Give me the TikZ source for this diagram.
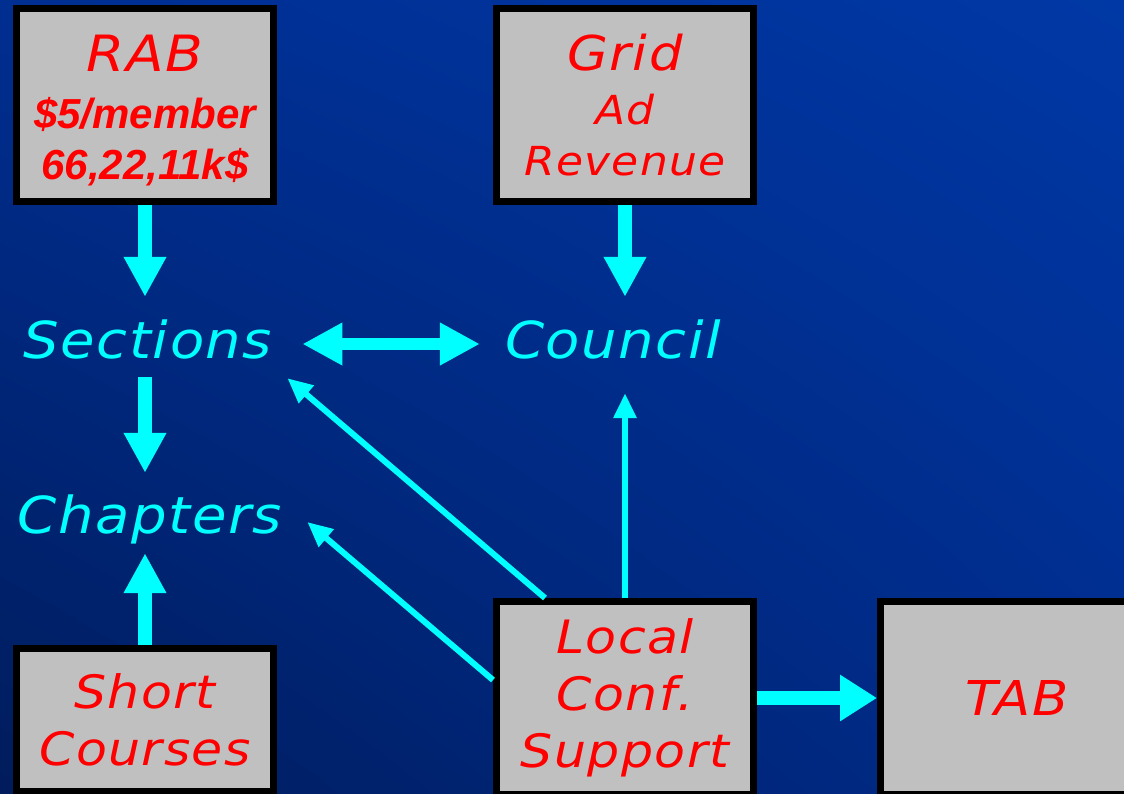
\documentclass[tikz,border=0pt]{standalone}
\usepackage{fontspec}
\newfontfamily\slidefont{DejaVu Sans}[FakeStretch=1.1,LetterSpace=3]
\newfontfamily\figfont{Liberation Sans}
\usetikzlibrary{positioning, arrows.meta, shadings}

\definecolor{boxgray}{HTML}{C0C0C0}
\definecolor{flowcyan}{HTML}{00FFFF}
\definecolor{bgUL}{RGB}{0,46,145}
\definecolor{bgUR}{RGB}{0,56,165}
\definecolor{bgLL}{RGB}{0,28,92}
\definecolor{bgLR}{RGB}{0,44,140}

\begin{document}
\begin{tikzpicture}[
        x=1pt, y=-1pt,
        every node/.style={align=center, inner sep=0pt},
        box/.style={draw=black, line width=7pt, fill=boxgray, text=red, minimum width=257pt, minimum height=193pt, font=\slidefont\itshape\fontsize{46}{57}\selectfont},
        lbl/.style={text=flowcyan, font=\slidefont\itshape\fontsize{51}{56}\selectfont, text height=40pt, text depth=12pt, anchor=base},
        fat/.style={draw=flowcyan, line width=14pt, -{Triangle[length=40pt, width=40pt]}},
        fatboth/.style={draw=flowcyan, line width=12pt, {Triangle[length=40pt, width=40pt]}-{Triangle[length=40pt, width=40pt]}},
        slim/.style={draw=flowcyan, line width=6pt, -{Triangle[length=25pt, width=22pt]}}
    ]

    % Background
    \useasboundingbox (0,0) rectangle (1124,793);
    \clip (0,0) rectangle (1124,793);
    \shade[upper left=bgUL, upper right=bgUR, lower left=bgLL, lower right=bgLR] (0,0) rectangle (1124,793);

    % Top row: funding
    \node[box, font=\slidefont\itshape\fontsize{42}{51}\selectfont] (rab) at (145,105)
        {{\fontsize{50}{56}\selectfont\rule{0pt}{47pt}RAB}\\[6pt]
         {\figfont\bfseries\fontsize{42}{51}\selectfont \$5/member}\\
         {\figfont\bfseries\fontsize{42}{51}\selectfont 66,22,11k\$}};
    \node[box, font=\slidefont\itshape\fontsize{40}{51}\selectfont, right=216pt of rab] (grid)
        {{\fontsize{48}{56}\selectfont Grid}\\[3pt] Ad\\ Revenue};

    % Middle: receivers
    \node[lbl] (sections) at (148,358) {Sections};
    \node[lbl] (council) at (613,358) {Council};
    \node[lbl] (chapters) at (150,533) {Chapters};

    % Bottom row
    \node[box, below=393pt of grid] (local) {Local\\ Conf.\\ Support};
    \node[box, minimum width=273pt, right=120pt of local] (tab) {\fontsize{48}{56}\selectfont TAB};
    \node[box, minimum height=143pt] (short) at (145,720) {Short\\ Courses};

    % Flows
    \draw[fat, shorten >=21pt] (rab.south) -- (rab.south |- sections.north);
    \draw[fat, shorten <=7pt, shorten >=20pt] (rab.south |- sections.south) -- (rab.south |- chapters.north);
    \draw[fat, shorten >=8pt] (short.north) -- (short.north |- chapters.south);
    \draw[fat, shorten >=21pt] (grid.south) -- (grid.south |- council.north);
    \draw[fatboth, shorten <=30pt, shorten >=25pt] (sections.east) -- (council.west);
    \draw[slim, shorten >=23pt] (local.north) -- (local.north |- council.south);
    \draw[slim] ([xshift=52pt]local.north west) -- ([xshift=15pt, yshift=-8pt]sections.south east);
    \draw[slim] ([yshift=18pt]local.west) -- ([xshift=25pt, yshift=-3pt]chapters.east);
    \draw[fat, -{Triangle[length=37pt, width=44pt]}] (local.east) -- (tab.west);

\end{tikzpicture}
\end{document}
